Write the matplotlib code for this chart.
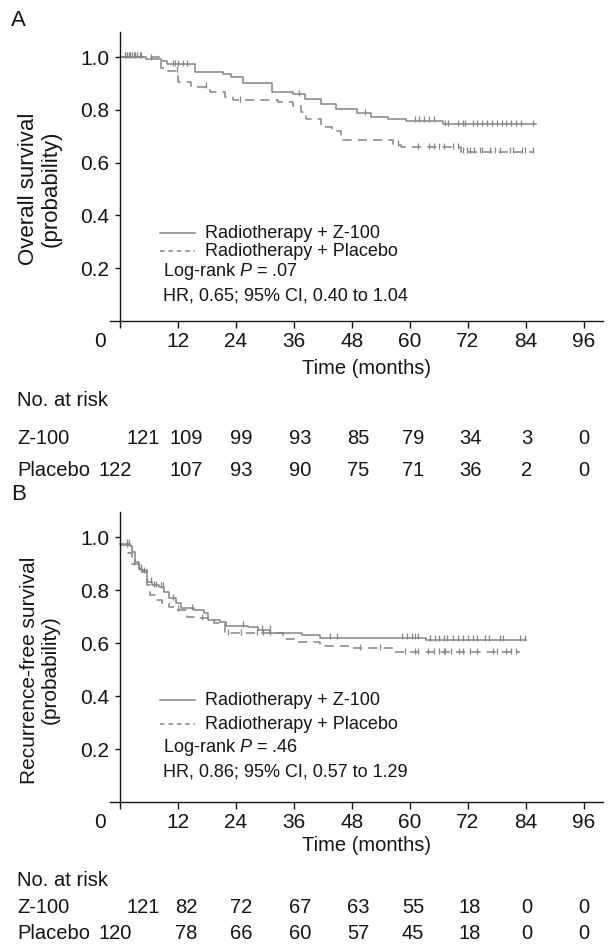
import numpy as np
import matplotlib
matplotlib.use('Agg')
import matplotlib.pyplot as plt
from matplotlib import transforms

plt.rcParams['font.family'] = ['Liberation Sans', 'DejaVu Sans']
plt.rcParams['mathtext.fontset'] = 'custom'
plt.rcParams['mathtext.rm'] = 'Liberation Sans'
plt.rcParams['mathtext.it'] = 'Liberation Sans:italic'

# Panel A - overall survival (step times in months, survival probability)
a_z_times = [0, 5.5, 8.6, 9.7, 15.5, 21.3, 23.1, 25.5, 31.6, 35.9, 38.3, 41.7,
             44.8, 49.0, 52.1, 55.5, 59.3, 66.9, 86.2]
a_z_surv = [1.0, 0.993, 0.986, 0.972, 0.942, 0.937, 0.923, 0.900, 0.866, 0.859,
            0.841, 0.822, 0.802, 0.787, 0.772, 0.765, 0.759, 0.746, 0.746]
a_z_cens = [1, 1.5, 2, 2.5, 3, 3.5, 4.5, 6.5, 11, 11.5, 12, 13, 14, 37.2, 50.7,
            61, 62, 63, 64, 65, 67.3, 67.9, 70, 71, 71.5, 73, 74, 75, 76, 77,
            78, 79, 80, 81, 82, 83, 85.5]

a_p_times = [0, 8.6, 10.0, 12.0, 14.8, 18.6, 21.7, 23.4, 32.8, 35.9, 37.6, 38.6,
             41.7, 44.0, 45.8, 56.5, 58.3, 70.7, 85.5]
a_p_surv = [1.0, 0.957, 0.948, 0.906, 0.888, 0.866, 0.850, 0.837, 0.831, 0.816,
            0.790, 0.764, 0.735, 0.721, 0.686, 0.667, 0.658, 0.641, 0.641]
a_p_cens = [1.2, 2.2, 3.2, 4.2, 11.8, 17.9, 24.8, 57.5, 61.7, 64, 65, 66, 67,
            69, 70, 71, 71.8, 72.4, 73.4, 74.5, 75, 76.6, 77.6, 78.6, 80.7,
            81.3, 83.2, 83.8, 85.5]

# Panel B - recurrence-free survival
b_z_times = [0, 2.1, 2.5, 3.2, 3.9, 4.6, 5.7, 6.7, 8.1, 9.2, 10.2, 11.6, 12.7,
             15.4, 17.5, 18.2, 20.7, 22.1, 26.6, 28.7, 31.1, 37.7, 41.5, 63.4, 84.0]
b_z_surv = [0.975, 0.965, 0.944, 0.906, 0.881, 0.869, 0.831, 0.819, 0.8125,
            0.794, 0.769, 0.750, 0.731, 0.725, 0.713, 0.6875, 0.678, 0.665, 0.660,
            0.650, 0.6375, 0.629, 0.621, 0.6125, 0.6125]
b_z_cens = [1.5, 2, 4, 4.5, 5, 6.5, 7, 7.5, 8.5, 9, 11, 15, 25.5, 29.5, 31,
            43.5, 45, 58.4, 59.5, 60.5, 61, 61.7, 64.2, 65.2, 66, 67, 67.7, 69,
            70, 71, 72, 73, 74, 75.5, 76.5, 78.6, 79.3, 82.8, 83.8]

b_p_times = [0, 1.8, 2.5, 3.9, 5.7, 6.3, 7.4, 8.8, 10.2, 11.6, 14.0, 16.1, 19.6,
             21.7, 33.8, 36.6, 41.4, 47.6, 56.9, 82.8]
b_p_surv = [0.970, 0.940, 0.900, 0.875, 0.820, 0.781, 0.7625, 0.750, 0.735,
            0.725, 0.700, 0.694, 0.675, 0.6375, 0.615, 0.606, 0.590, 0.581,
            0.565, 0.565]
b_p_cens = [1.5, 3, 4.5, 12, 17, 22.5, 25, 28.4, 29.6, 31, 49.7, 53.8, 59,
            61, 61.7, 63.7, 65, 66, 67, 67.3, 68.5, 70.3, 71, 72.4, 74, 77.2,
            78, 80, 81, 82]

month_ticks = [0, 12, 24, 36, 48, 60, 72, 84, 96]
a_risk_z = [121, 109, 99, 93, 85, 79, 34, 3, 0]
a_risk_p = [122, 107, 93, 90, 75, 71, 36, 2, 0]
b_risk_z = [121, 82, 72, 67, 63, 55, 18, 0, 0]
b_risk_p = [120, 78, 66, 60, 57, 45, 18, 0, 0]

W, H = 612, 947
fig = plt.figure(figsize=(W / 100, H / 100), dpi=100)
CURVE = '#858585'
INK = '#151515'
FS = 14.5      # axis labels / table
FT = 15        # tick labels
FL = 13        # legend + stats


def fy(y):
    # pixel row from the top -> figure fraction
    return 1 - y / H


def censor_y(times, surv, cens):
    idx = np.searchsorted(times, cens, side='right') - 1
    return np.asarray(surv)[idx]


# table columns (pixel x of each count) - first column sits a bit differently per row
col_z = [143, 186, 241, 300, 358, 413, 470, 527, 584]
col_p = [115, 186, 241, 300, 358, 413, 470, 527, 584]


def panel(top, axis_y, letter_y, letter, ylabel, ylab_fs, z, p, logrank, hr,
          risk_z, risk_p, rows, leg):
    ax = fig.add_axes([110 / W, fy(axis_y), 493 / W, (axis_y - top) / H])
    ax.set_xlim(-2, 100)
    ax.set_ylim(0, 1.095)

    zt, zs, zc = z
    pt, ps, pc = p
    ax.step(zt, zs, where='post', color=CURVE, lw=1.1)
    ax.step(pt, ps, where='post', color=CURVE, lw=1.1, dashes=(6, 4))
    ax.plot(zc, censor_y(zt, zs, zc) + 0.006, ls='none', marker='|',
            ms=4, mew=0.9, color=CURVE)
    ax.plot(pc, censor_y(pt, ps, pc) + 0.006, ls='none', marker='|',
            ms=4, mew=0.9, color=CURVE)

    for s in ['top', 'right']:
        ax.spines[s].set_visible(False)
    ax.spines['left'].set_position(('data', 0))
    for s in ['left', 'bottom']:
        ax.spines[s].set_color(INK)
        ax.spines[s].set_linewidth(1.0)

    ax.set_yticks([0.2, 0.4, 0.6, 0.8, 1.0])
    ax.set_yticklabels(['0.2', '0.4', '0.6', '0.8', '1.0'])
    ax.set_xticks(month_ticks)
    ax.tick_params(axis='x', length=5, width=1, pad=3, labelsize=FT,
                   colors=INK)
    ax.tick_params(axis='y', length=3.5, width=1, pad=4, labelsize=FT,
                   colors=INK)
    # the "0" label sits left of the y axis in the original
    lab0 = ax.get_xticklabels()[0]
    lab0.set_transform(lab0.get_transform() +
                       transforms.ScaledTranslation(-0.2, 0, fig.dpi_scale_trans))

    # legend drawn by hand
    ax.plot([8.3, 15.5], [leg[0], leg[0]], color=CURVE, lw=1.1)
    ax.plot([8.3, 15.5], [leg[1], leg[1]], color=CURVE, lw=1.1, dashes=(3, 2.5))
    ax.text(17.6, leg[0], 'Radiotherapy + Z-100', fontsize=FL, color=INK,
            va='center')
    ax.text(17.6, leg[1], 'Radiotherapy + Placebo', fontsize=FL, color=INK,
            va='center')
    ax.text(9.0, leg[2], logrank, fontsize=FL, color=INK, va='center')
    ax.text(9.0, leg[3], hr, fontsize=FL, color=INK, va='center')

    fig.text(11 / W, fy(letter_y), letter, fontsize=16, color=INK,
             va='center', ha='left')
    fig.text(40 / W, fy((axis_y + axis_y - 264) / 2), ylabel, fontsize=ylab_fs,
             color=INK, rotation=90, ha='center', va='center',
             multialignment='center', linespacing=1.1)
    fig.text(366 / W, fy(rows[0]), 'Time (months)', fontsize=FS, color=INK,
             ha='center', va='center')

    # numbers at risk
    fig.text(17 / W, fy(rows[1]), 'No. at risk', fontsize=FS, color=INK,
             va='center')
    fig.text(17 / W, fy(rows[2]), 'Z-100', fontsize=FS, color=INK, va='center')
    fig.text(17 / W, fy(rows[3]), 'Placebo', fontsize=FS, color=INK,
             va='center')
    for xz, xp, nz, np_ in zip(col_z, col_p, risk_z, risk_p):
        fig.text(xz / W, fy(rows[2]), str(nz), fontsize=FS, color=INK,
                 ha='center', va='center')
        fig.text(xp / W, fy(rows[3]), str(np_), fontsize=FS, color=INK,
                 ha='center', va='center')
    return ax


panel(32, 321, 20, 'A', 'Overall survival\n(probability)', 16,
      (a_z_times, a_z_surv, a_z_cens), (a_p_times, a_p_surv, a_p_cens),
      'Log-rank $P$ = .07', 'HR, 0.65; 95% CI, 0.40 to 1.04',
      a_risk_z, a_risk_p, (368, 401, 438, 470), (0.333, 0.265, 0.186, 0.095))

panel(512, 802, 494, 'B', 'Recurrence-free survival\n(probability)', 15,
      (b_z_times, b_z_surv, b_z_cens), (b_p_times, b_p_surv, b_p_cens),
      'Log-rank $P$ = .46', 'HR, 0.86; 95% CI, 0.57 to 1.29',
      b_risk_z, b_risk_p, (845, 880, 907, 933), (0.385, 0.294, 0.204, 0.113))

fig.savefig('out.png', dpi=100)
